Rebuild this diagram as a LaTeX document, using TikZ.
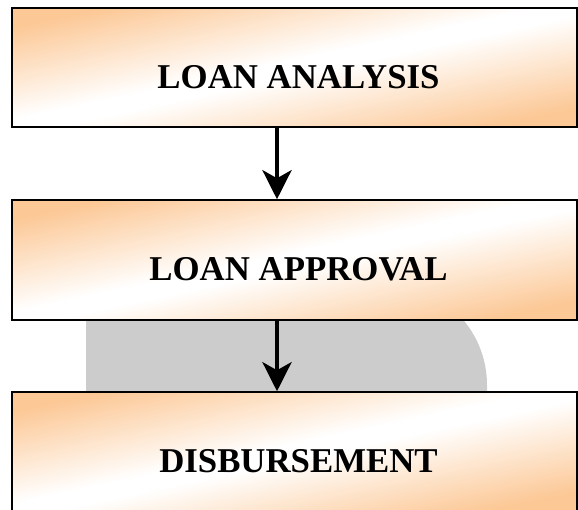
\documentclass[tikz,border=0pt]{standalone}
\usepackage{fontspec}
\setmainfont{Liberation Serif}
\usetikzlibrary{arrows.meta}
\definecolor{stageorange}{RGB}{252,200,150}
\pgfdeclareverticalshading{stagefade}{100bp}{color(0bp)=(stageorange); color(25bp)=(stageorange);
  color(48bp)=(white); color(52bp)=(white); color(75bp)=(stageorange); color(100bp)=(stageorange)}

\begin{document}
\begin{tikzpicture}[x=1pt, y=1pt,
  stage/.style={draw, line width=1.5pt, minimum width=565pt, inner sep=0pt,
    shading=stagefade, shading angle=12,
    font=\bfseries\fontsize{34.8}{40}\selectfont, text height=42pt, text depth=0pt,
    execute at begin node=\hspace*{8pt}},
  flow/.style={line width=4.5pt, -{Stealth[length=29pt, width=29pt, inset=8pt]}}]
\useasboundingbox (0,0) rectangle (578,509);

\fill[gray!40] (86,117) -- (86,225) -- (386,225) arc[start angle=90, end angle=0, radius=101] -- (487,117) -- cycle;

\node[stage, minimum height=119pt] (1) at (294.5, 441.5) {LOAN ANALYSIS};
\node[stage, minimum height=120pt] (2) at (294.5, 249) {LOAN APPROVAL};
\node[stage, minimum height=119pt] (3) at (294.5, 57.5) {DISBURSEMENT};

\draw[flow] ([xshift=-17.5pt]1.south) -- ([xshift=-17.5pt]2.north);
\draw[flow] ([xshift=-17.5pt]2.south) -- ([xshift=-17.5pt]3.north);
\end{tikzpicture}
\end{document}
